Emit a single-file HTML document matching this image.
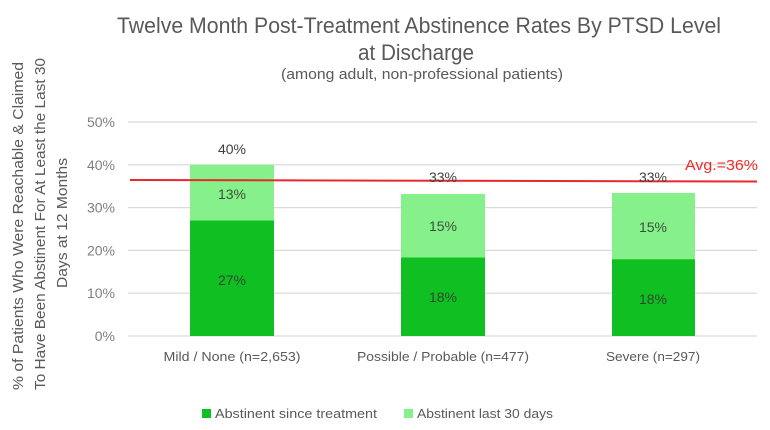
<!DOCTYPE html>
<html>
<head>
<meta charset="utf-8">
<style>
  html, body { margin: 0; padding: 0; background: #ffffff; }
  svg { display: block; }
  text { font-family: "Liberation Sans", "DejaVu Sans", sans-serif; }
</style>
</head>
<body>
<svg width="770" height="430" viewBox="0 0 770 430" xmlns="http://www.w3.org/2000/svg">
  <rect x="0" y="0" width="770" height="430" fill="#ffffff"/>

  <!-- Title -->
  <text x="117" y="33" font-size="22" fill="#595959" textLength="604" lengthAdjust="spacingAndGlyphs">Twelve Month Post-Treatment Abstinence Rates By PTSD Level</text>
  <text x="358" y="60" font-size="22" fill="#595959" textLength="116" lengthAdjust="spacingAndGlyphs">at Discharge</text>
  <text x="281" y="79" font-size="15" fill="#595959" textLength="282" lengthAdjust="spacingAndGlyphs">(among adult, non-professional patients)</text>

  <!-- Y axis title -->
  <text transform="translate(23,390) rotate(-90)" x="0" y="0" font-size="15" fill="#595959" textLength="328" lengthAdjust="spacingAndGlyphs">% of Patients Who Were Reachable &amp; Claimed</text>
  <text transform="translate(45,390) rotate(-90)" x="0" y="0" font-size="15" fill="#595959" textLength="332" lengthAdjust="spacingAndGlyphs">To Have Been Abstinent For At Least the Last 30</text>
  <text transform="translate(67,288) rotate(-90)" x="0" y="0" font-size="15" fill="#595959" textLength="130" lengthAdjust="spacingAndGlyphs">Days at 12 Months</text>

  <!-- Gridlines -->
  <g stroke="#d9d9d9" stroke-width="1.2">
    <line x1="128" y1="122" x2="757" y2="122"/>
    <line x1="128" y1="164.8" x2="757" y2="164.8"/>
    <line x1="128" y1="207.6" x2="757" y2="207.6"/>
    <line x1="128" y1="250.4" x2="757" y2="250.4"/>
    <line x1="128" y1="293.2" x2="757" y2="293.2"/>
    <line x1="128" y1="336" x2="757" y2="336"/>
  </g>

  <!-- Y tick labels -->
  <g font-size="14" fill="#7f7f7f" text-anchor="end">
    <text x="115" y="127">50%</text>
    <text x="115" y="170">40%</text>
    <text x="115" y="212.5">30%</text>
    <text x="115" y="255.5">20%</text>
    <text x="115" y="298">10%</text>
    <text x="115" y="341">0%</text>
  </g>

  <!-- Bars -->
  <rect x="190" y="164.8" width="84" height="56" fill="#86f08a"/>
  <rect x="190" y="220.5" width="84" height="115.5" fill="#10bf22"/>

  <rect x="401" y="194" width="84" height="64" fill="#86f08a"/>
  <rect x="401" y="257.5" width="84" height="78.5" fill="#10bf22"/>

  <rect x="612" y="193" width="83" height="66.5" fill="#86f08a"/>
  <rect x="612" y="259.3" width="83" height="76.7" fill="#10bf22"/>

  <!-- Average line -->
  <line x1="130" y1="180" x2="757" y2="181.5" stroke="#e8282c" stroke-width="2"/>
  <text x="685" y="170" font-size="15" fill="#ee2a2a" textLength="73" lengthAdjust="spacingAndGlyphs">Avg.=36%</text>

  <!-- Data labels -->
  <g font-size="14" text-anchor="middle">
    <text x="232" y="154" fill="#404040">40%</text>
    <text x="232" y="199" fill="#3c4f3c">13%</text>
    <text x="232" y="285" fill="#2e4a2e">27%</text>

    <text x="443" y="182" fill="#404040">33%</text>
    <text x="443" y="231" fill="#3c4f3c">15%</text>
    <text x="443" y="302" fill="#2e4a2e">18%</text>

    <text x="653" y="182" fill="#404040">33%</text>
    <text x="653" y="232" fill="#3c4f3c">15%</text>
    <text x="653" y="304" fill="#2e4a2e">18%</text>
  </g>

  <!-- X category labels -->
  <g font-size="13" fill="#595959" text-anchor="middle">
    <text x="232" y="361" textLength="137" lengthAdjust="spacingAndGlyphs">Mild / None (n=2,653)</text>
    <text x="443" y="361" textLength="172" lengthAdjust="spacingAndGlyphs">Possible / Probable (n=477)</text>
    <text x="653" y="361" textLength="94" lengthAdjust="spacingAndGlyphs">Severe (n=297)</text>
  </g>

  <!-- Legend -->
  <rect x="202" y="409" width="9" height="9" fill="#10bf22"/>
  <text x="215" y="418" font-size="13" fill="#595959" textLength="162" lengthAdjust="spacingAndGlyphs">Abstinent since treatment</text>
  <rect x="404" y="409" width="9" height="9" fill="#86f08a"/>
  <text x="417" y="418" font-size="13" fill="#595959" textLength="136" lengthAdjust="spacingAndGlyphs">Abstinent last 30 days</text>
</svg>
</body>
</html>
